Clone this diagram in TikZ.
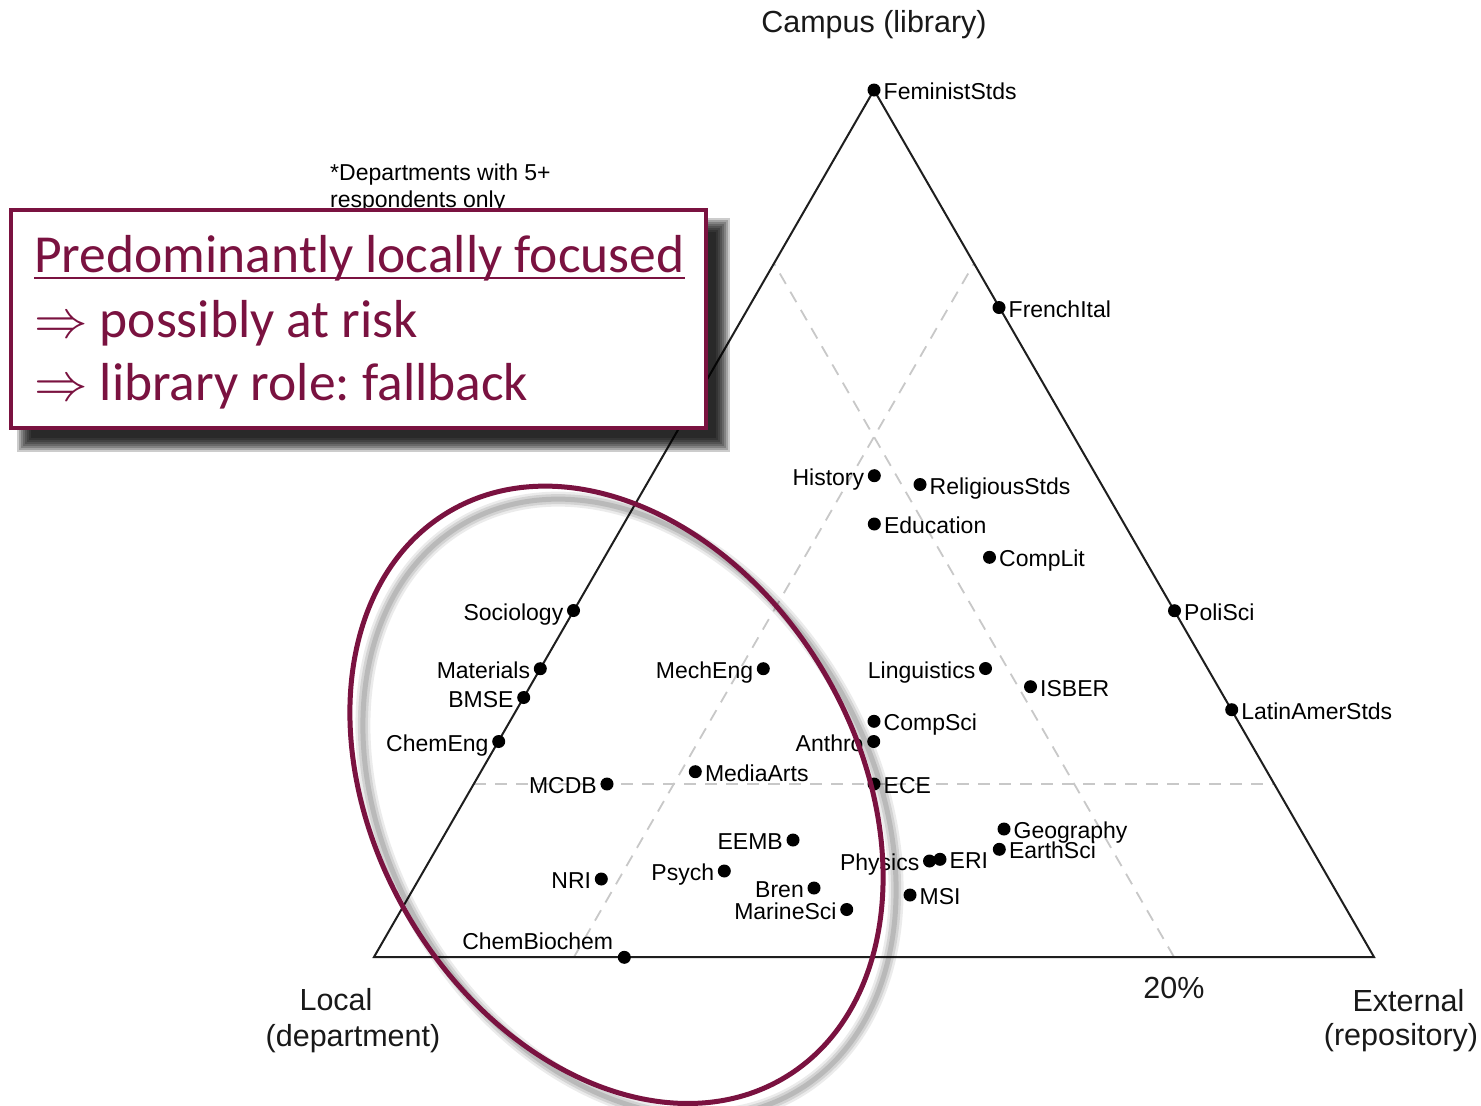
\RequirePackage{fix-cm}
\documentclass[tikz,border=0pt]{standalone}
\usepackage{fontspec}
\setmainfont{Liberation Sans}
\newfontfamily\calibfont{Carlito}
\usetikzlibrary{calc}
\definecolor{maroonc}{RGB}{122,18,64}
\definecolor{gridgray}{RGB}{200,200,200}
\definecolor{edgec}{RGB}{30,30,30}
\tikzset{
  dot/.style={circle, fill=black, inner sep=0pt, minimum size=13pt},
  lbl/.style={inner sep=0pt, text=black, font=\fontsize{23}{27}\selectfont},
  axislbl/.style={inner sep=0pt, anchor=base, text=black!90, font=\fontsize{30.5}{36}\selectfont},
  gridline/.style={gridgray, line width=1.8pt, dash pattern=on 12pt off 9pt},
  triedge/.style={edgec, line width=2pt, line join=miter},
  boxtxt/.style={inner sep=0pt, anchor=base west, text=maroonc, font=\calibfont\fontsize{53.5}{60}\selectfont\frenchspacing},
  ringline/.style={maroonc, line width=5pt},
  framebox/.style={draw=maroonc, line width=4pt, fill=white, inner sep=0pt},
}
\newcommand\deptR[4]{\node[dot] (#1) at (#2,#3) {};
  \node[lbl, anchor=base west] (#1t) at ($(#1.center)+(9.5,9.5)$) {#4};}
\newcommand\deptL[4]{\node[dot] (#1) at (#2,#3) {};
  \node[lbl, anchor=base east] (#1t) at ($(#1.center)+(-10,9.5)$) {#4};}
\begin{document}
\begin{tikzpicture}[x=1pt,y=-1pt]
\useasboundingbox (0,0) rectangle (1481,1106);
\fill[white] (0,0) rectangle (1481,1106);

% triangle corners
\coordinate (L) at (374,957);
\coordinate (R) at (1374,957);
\coordinate (T) at (874,90);
% 20% grid lines
\coordinate (gh1) at (474,783.6);
\coordinate (gh2) at (1274,783.6);
\coordinate (gl1) at (574,957);
\coordinate (gl2) at (974,263.4);
\coordinate (gr1) at (1174,957);
\coordinate (gr2) at (774,263.4);
\draw[gridline] (gh1) -- (gh2);
\draw[gridline] (gl1) -- (gl2);
\draw[gridline] (gr1) -- (gr2);
\draw[triedge] (L) -- (T) -- (R) -- cycle;

% departments
\deptR{fem}{874}{90}{FeministStds}
\deptR{fre}{999}{307.5}{FrenchItal}
\deptL{his}{874.3}{475.7}{History}
\deptR{rel}{920}{484.5}{ReligiousStds}
\deptR{edu}{874.3}{524}{Education}
\deptR{cli}{989.5}{557.3}{CompLit}
\deptR{pol}{1174.5}{610.7}{PoliSci}
\deptL{soc}{573.5}{610.5}{Sociology}
\deptL{mat}{540.3}{668.7}{Materials}
\deptL{bms}{523.7}{697.5}{BMSE}
\deptL{che}{498.7}{741.5}{ChemEng}
\deptL{mec}{763.3}{668.7}{MechEng}
\deptL{lin}{985.5}{668.5}{Linguistics}
\deptR{isb}{1030.5}{686.7}{ISBER}
\deptR{lat}{1231.7}{709.7}{LatinAmerStds}
\deptR{csc}{874}{721.3}{CompSci}
\deptL{ant}{873.7}{741.5}{Anthro}
\deptL{mcd}{607}{784}{MCDB}
\deptR{med}{695.3}{771.7}{MediaArts}
\deptR{ece}{874}{784}{ECE}
\deptR{geo}{1004}{829}{Geography}
\deptR{ear}{999.3}{849.3}{EarthSci}
\deptL{eem}{793}{840}{EEMB}
\deptL{phy}{929.5}{861}{Physics}
\deptR{eri}{940}{859.3}{ERI}
\deptR{msi}{910}{895}{MSI}
\deptL{nri}{601.3}{879}{NRI}
\deptL{psy}{724.3}{871}{Psych}
\deptL{bre}{814}{888}{Bren}
\deptL{mar}{846.7}{909.5}{MarineSci}
\node[dot] (cbc) at (624.3,957.3) {};
\node[lbl, anchor=base east] (cbct) at ($(cbc.center)+(-11,-7.5)$) {ChemBiochem};

% axis labels
\node[axislbl] (campus) at (874,32) {Campus (library)};
\node[axislbl] (loc1) at (336,1010) {Local};
\node[axislbl] (loc2) at (353,1046) {(department)};
\node[axislbl] (ext1) at (1408.5,1011) {External};
\node[axislbl] (ext2) at (1401,1045) {(repository)};
\node[axislbl] (pct) at (1174,998) {20\%};

% ellipse shadow and ellipse
\foreach \w/\o in {15/0.08, 10/0.1, 5/0.12}
  \draw[black, opacity=\o, line width=\w pt, shift={(629.5,807.8)}, rotate=-59.4]
    (0,0) ellipse [x radius=329, y radius=241];
\draw[ringline, shift={(616.5,794.8)}, rotate=-59.4]
  (0,0) ellipse [x radius=329, y radius=241];

% note
\node[lbl, anchor=base west] (note1) at (330,180) {*Departments with 5+};
\node[lbl, anchor=base west] (note2) at (330,207) {respondents only};

% box shadow
\foreach \e in {-6,-4,...,8}
  \fill[black, opacity=0.2] (25-\e, 226-\e) rectangle (722+\e, 444+\e);
% box
\node[framebox, minimum width=695.5pt, minimum height=218pt] (box) at (358.25,319) {};
\node[boxtxt] (t1) at (34,272) {Predominantly locally focused};
\draw[maroonc, line width=2.6pt] ($(t1.base west)+(0,6)$) -- ($(t1.base east)+(0,6)$);
\node[boxtxt] (t2) at (34,337) {$\Rightarrow$ possibly at risk};
\node[boxtxt] (t3) at (34,400) {$\Rightarrow$ library role: fallback};
\end{tikzpicture}
\end{document}
